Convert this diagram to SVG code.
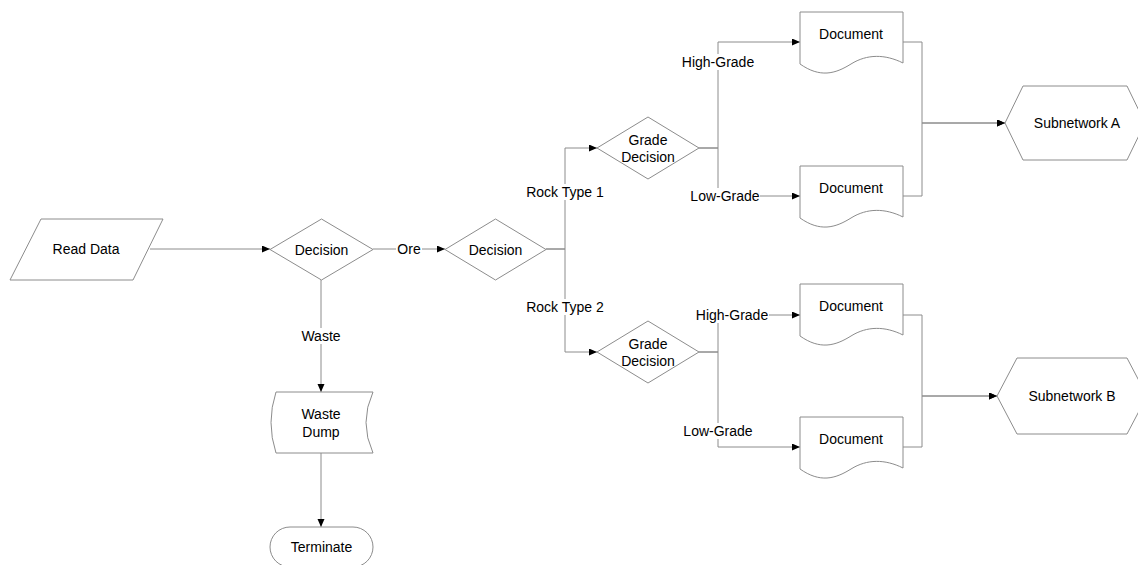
<svg xmlns="http://www.w3.org/2000/svg" width="1138" height="565" viewBox="0 0 1138 565">
<style>
.s{fill:#fff;stroke:#8c8c8c;stroke-width:1}
.c{fill:none;stroke:#8c8c8c;stroke-width:1}
text{font-family:"Liberation Sans",Arial,sans-serif;font-size:14px;fill:#000;text-anchor:middle;dominant-baseline:central}
.lb{fill:#fff;stroke:none}
</style>
<defs>
<marker id="ah" markerWidth="9" markerHeight="8" refX="8" refY="3.5" orient="auto" markerUnits="userSpaceOnUse">
<path d="M0,0 L8,3.5 L0,7 z" fill="#000"/>
</marker>
</defs>
<rect width="1138" height="565" fill="#fff"/>
<g id="connectors">
<path class="c" d="M150,249 H270" marker-end="url(#ah)"/>
<path class="c" d="M373,249 H445" marker-end="url(#ah)"/>
<path class="c" d="M321,280 V392" marker-end="url(#ah)"/>
<path class="c" d="M321,453 V527" marker-end="url(#ah)"/>
<path class="c" d="M546,249 H565 V148 H597" marker-end="url(#ah)"/>
<path class="c" d="M546,249 H565 V352 H597" marker-end="url(#ah)"/>
<path class="c" d="M699,148 H718 V42 H800" marker-end="url(#ah)"/>
<path class="c" d="M699,148 H718 V196 H800" marker-end="url(#ah)"/>
<path class="c" d="M699,352 H718 V315 H800" marker-end="url(#ah)"/>
<path class="c" d="M699,352 H718 V447 H800" marker-end="url(#ah)"/>
<path class="c" d="M903,42 H922 V123 H1005" marker-end="url(#ah)"/>
<path class="c" d="M903,196 H922 V123 H1005" marker-end="url(#ah)"/>
<path class="c" d="M903,315 H922 V396 H997" marker-end="url(#ah)"/>
<path class="c" d="M903,447 H922 V396 H997" marker-end="url(#ah)"/>
<rect class="lb" x="396" y="241" width="26" height="16"/><text x="409" y="249">Ore</text>
<rect class="lb" x="300" y="328" width="42" height="16"/><text x="321" y="336">Waste</text>
<rect class="lb" x="525" y="184" width="80" height="16"/><text x="565" y="192">Rock Type 1</text>
<rect class="lb" x="525" y="299" width="80" height="16"/><text x="565" y="307">Rock Type 2</text>
<rect class="lb" x="682" y="54" width="73" height="16"/><text x="718" y="62">High-Grade</text>
<rect class="lb" x="690" y="188" width="70" height="16"/><text x="725" y="196">Low-Grade</text>
<rect class="lb" x="696" y="307" width="73" height="16"/><text x="732" y="315">High-Grade</text>
<rect class="lb" x="683" y="423" width="70" height="16"/><text x="718" y="431">Low-Grade</text>
</g>
<g id="read-data"><path class="s" d="M41,219 H163 L133,280 H10 Z"/><text x="86" y="249">Read Data</text></g>
<g id="decision1"><path class="s" d="M270,249.5 L321.5,219 L373,249.5 L321.5,280 Z"/><text x="321.5" y="249.5">Decision</text></g>
<g id="decision2"><path class="s" d="M445,249.5 L495.5,219 L546,249.5 L495.5,280 Z"/><text x="495.5" y="249.5">Decision</text></g>
<g id="waste-dump"><path class="s" d="M276,392 H373 Q359,422.5 373,453 H276 Q266,422.5 276,392 Z"/><text x="321" y="414">Waste</text><text x="321" y="432">Dump</text></g>
<g id="terminate"><rect class="s" x="270" y="527" width="103" height="40" rx="20" ry="20"/><text x="321.5" y="547">Terminate</text></g>
<g id="grade1"><path class="s" d="M597,148 L648,117 L699,148 L648,179 Z"/><text x="648" y="139.5">Grade</text><text x="648" y="156.5">Decision</text></g>
<g id="grade2"><path class="s" d="M597,352 L648,321 L699,352 L648,383 Z"/><text x="648" y="343.5">Grade</text><text x="648" y="360.5">Decision</text></g>
<g id="doc1"><path class="s" d="M800,12 H903 V63 C885,54 867,54 851,64 C835,74 820,78 800,64 Z"/><text x="851" y="34">Document</text></g>
<g id="doc2"><path class="s" d="M800,166 H903 V217 C885,208 867,208 851,218 C835,228 820,232 800,218 Z"/><text x="851" y="188">Document</text></g>
<g id="doc3"><path class="s" d="M800,284 H903 V335 C885,326 867,326 851,336 C835,346 820,350 800,336 Z"/><text x="851" y="306">Document</text></g>
<g id="doc4"><path class="s" d="M800,417 H903 V468 C885,459 867,459 851,469 C835,479 820,483 800,469 Z"/><text x="851" y="439">Document</text></g>
<g id="subnetwork-a"><path class="s" d="M1005,123 L1023,86 H1127 L1145,123 L1127,160 H1023 Z"/><text x="1077" y="123">Subnetwork A</text></g>
<g id="subnetwork-b"><path class="s" d="M997,396 L1017,358 H1127 L1147,396 L1127,434 H1017 Z"/><text x="1072" y="396">Subnetwork B</text></g>
</svg>
